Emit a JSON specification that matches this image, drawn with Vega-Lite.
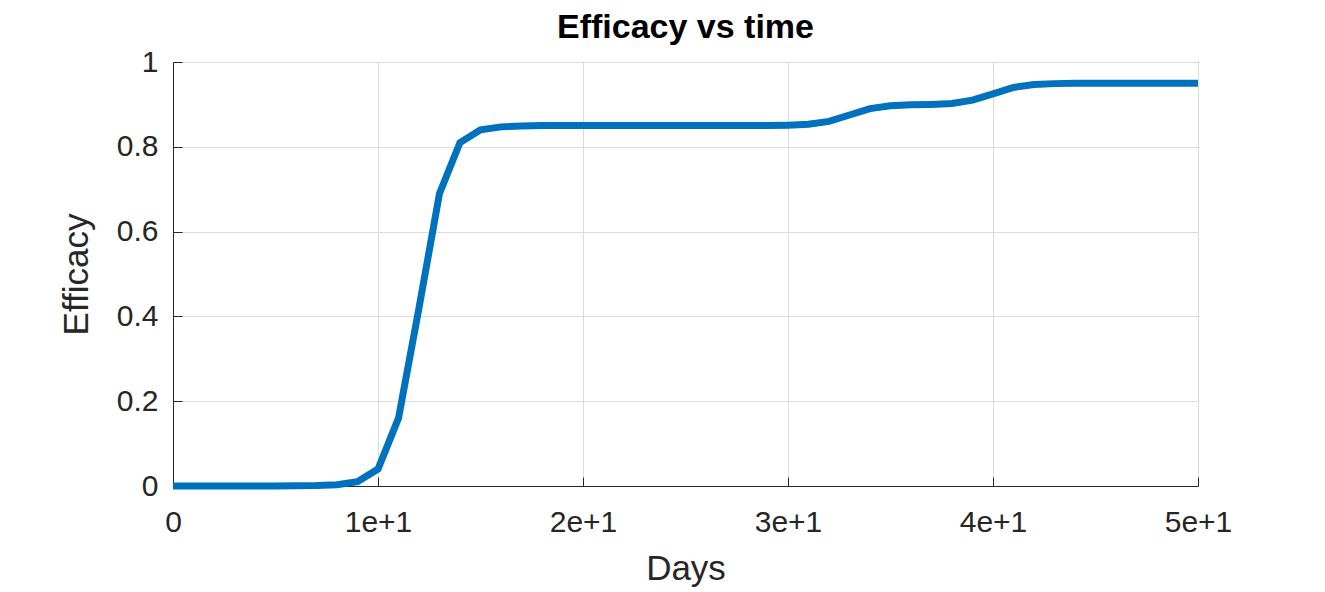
{
  "$schema": "https://vega.github.io/schema/vega-lite/v6.json",
  "width": 1025,
  "height": 424,
  "autosize": {"type": "none"},
  "padding": {"left": 173, "top": 62, "right": 127, "bottom": 106},
  "background": "white",
  "title": {"text": "Efficacy vs time", "font": "Liberation Sans", "fontSize": 34, "fontWeight": "bold", "color": "#000000", "offset": 2},
  "config": {
    "view": {"stroke": "#262626", "strokeWidth": 1},
    "axis": {
      "labelFont": "Liberation Sans", "labelFontSize": 30, "labelColor": "#262626",
      "titleFont": "Liberation Sans", "titleFontSize": 35, "titleFontWeight": "normal", "titleColor": "#262626",
      "gridColor": "#dcdcdc", "domainColor": "#262626", "tickColor": "#262626",
      "tickSize": -9, "labelFlush": false
    }
  },
  "data": {"values": [
    {"day": 0, "eff": 0}, {"day": 1, "eff": 0}, {"day": 2, "eff": 0}, {"day": 3, "eff": 0},
    {"day": 4, "eff": 0}, {"day": 5, "eff": 0}, {"day": 6, "eff": 0.0003}, {"day": 7, "eff": 0.001},
    {"day": 8, "eff": 0.003}, {"day": 9, "eff": 0.01}, {"day": 10, "eff": 0.04}, {"day": 11, "eff": 0.16},
    {"day": 12, "eff": 0.42}, {"day": 13, "eff": 0.69}, {"day": 14, "eff": 0.81}, {"day": 15, "eff": 0.84},
    {"day": 16, "eff": 0.847}, {"day": 17, "eff": 0.849}, {"day": 18, "eff": 0.85}, {"day": 19, "eff": 0.85},
    {"day": 20, "eff": 0.85}, {"day": 21, "eff": 0.85}, {"day": 22, "eff": 0.85}, {"day": 23, "eff": 0.85},
    {"day": 24, "eff": 0.85}, {"day": 25, "eff": 0.85}, {"day": 26, "eff": 0.85}, {"day": 27, "eff": 0.85},
    {"day": 28, "eff": 0.85}, {"day": 29, "eff": 0.85}, {"day": 30, "eff": 0.851}, {"day": 31, "eff": 0.853},
    {"day": 32, "eff": 0.86}, {"day": 33, "eff": 0.875}, {"day": 34, "eff": 0.89}, {"day": 35, "eff": 0.897},
    {"day": 36, "eff": 0.899}, {"day": 37, "eff": 0.9}, {"day": 38, "eff": 0.902}, {"day": 39, "eff": 0.91},
    {"day": 40, "eff": 0.925}, {"day": 41, "eff": 0.94}, {"day": 42, "eff": 0.947}, {"day": 43, "eff": 0.949},
    {"day": 44, "eff": 0.95}, {"day": 45, "eff": 0.95}, {"day": 46, "eff": 0.95}, {"day": 47, "eff": 0.95},
    {"day": 48, "eff": 0.95}, {"day": 49, "eff": 0.95}, {"day": 50, "eff": 0.95}
  ]},
  "mark": {"type": "line", "color": "#0072BD", "strokeWidth": 7},
  "encoding": {
    "x": {"field": "day", "type": "quantitative", "title": "Days",
      "scale": {"domain": [0, 50], "nice": false},
      "axis": {"values": [0, 10, 20, 30, 40, 50], "format": "~g", "labelPadding": 30, "titlePadding": 14}},
    "y": {"field": "eff", "type": "quantitative", "title": "Efficacy",
      "scale": {"domain": [0, 1], "nice": false},
      "axis": {"values": [0, 0.2, 0.4, 0.6, 0.8, 1], "format": "~g", "labelPadding": 24, "titlePadding": 22}}
  }
}
